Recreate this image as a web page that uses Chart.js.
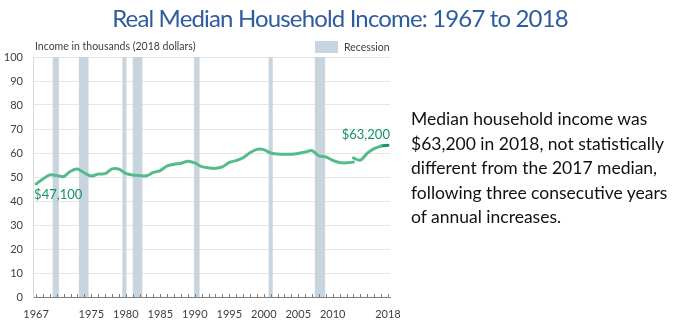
<!DOCTYPE html>
<html>
<head>
<meta charset="utf-8">
<script src="https://cdn.jsdelivr.net/npm/chart.js@4"></script>
<style>
    body { margin: 0; background: #fff; }
    #wrap { position: relative; width: 680px; height: 328px; overflow: hidden; }
    #grafica { position: absolute; left: 0; top: 0; }
    #titulo {
        position: absolute; left: 0; top: 3px; width: 680px; text-align: center;
        font-family: "Lato", sans-serif; font-size: 24px; letter-spacing: -0.85px; color: #2f5b9f;
    }
    #texto {
        position: absolute; left: 411px; top: 107px; width: 270px;
        font-family: "Lato", sans-serif; font-size: 17.5px; line-height: 24.5px; color: #111;
    }
    #ejeTitulo {
        position: absolute; left: 35px; top: 40px;
        font-family: "Lato", sans-serif; font-size: 10.5px; color: #404040;
    }
    #leyenda {
        position: absolute; left: 315px; top: 41px;
        font-family: "Lato", sans-serif; font-size: 10.5px; color: #404040;
    }
    #leyenda span.caja {
        display: inline-block; width: 23px; height: 12px; background: #c8d5df;
        vertical-align: -2px; margin-right: 6px;
    }
</style>
</head>
<body>
<div id="wrap">
    <canvas id="grafica" width="680" height="328"></canvas>
    <div id="titulo">Real Median Household Income: 1967 to 2018</div>
    <div id="ejeTitulo">Income in thousands (2018 dollars)</div>
    <div id="leyenda"><span class="caja"></span>Recession</div>
    <div id="texto">Median household income was $63,200 in 2018, not statistically different from the 2017 median, following three consecutive years of annual increases.</div>
</div>
<script>
const years = [
    1967, 1968, 1969, 1970, 1971, 1972, 1973, 1974, 1975, 1976,
    1977, 1978, 1979, 1980, 1981, 1982, 1983, 1984, 1985, 1986,
    1987, 1988, 1989, 1990, 1991, 1992, 1993, 1994, 1995, 1996,
    1997, 1998, 1999, 2000, 2001, 2002, 2003, 2004, 2005, 2006,
    2007, 2008, 2009, 2010, 2011, 2012, 2013, 2014, 2015, 2016,
    2017, 2018
];

// serie original 1967-2013
const incomeLegacy = [
    47.1, 49.2, 50.9, 50.6, 50.2, 52.4, 53.3, 51.7, 50.4, 51.2,
    51.4, 53.4, 53.3, 51.5, 50.8, 50.6, 50.5, 51.9, 52.7, 54.6,
    55.3, 55.7, 56.6, 55.9, 54.3, 53.8, 53.6, 54.2, 56.1, 56.8,
    58.0, 60.1, 61.5, 61.4, 60.0, 59.6, 59.5, 59.5, 59.8, 60.4,
    61.0, 58.8, 58.4, 56.9, 56.0, 55.9, 56.2, null, null, null,
    null, null
];

// serie con cuestionario nuevo 2013-2017
const incomeRedesign = [
    null, null, null, null, null, null, null, null, null, null,
    null, null, null, null, null, null, null, null, null, null,
    null, null, null, null, null, null, null, null, null, null,
    null, null, null, null, null, null, null, null, null, null,
    null, null, null, null, null, null, 57.9, 57.0, 59.9, 61.8,
    62.9, null
];

// sistema de procesamiento actualizado 2017-2018
const incomeUpdated = [
    null, null, null, null, null, null, null, null, null, null,
    null, null, null, null, null, null, null, null, null, null,
    null, null, null, null, null, null, null, null, null, null,
    null, null, null, null, null, null, null, null, null, null,
    null, null, null, null, null, null, null, null, null, null,
    62.9, 63.2
];

const recessionStart = [1969.4, 1973.2, 1979.5, 1981.0, 1989.9, 2000.7, 2007.4];
const recessionEnd = [1970.3, 1974.6, 1980.1, 1982.4, 1990.7, 2001.3, 2008.9];

const xTickLabels = [1967, 1975, 1980, 1985, 1990, 1995, 2000, 2005, 2010, 2018];
const yTicks = [0, 10, 20, 30, 40, 50, 60, 70, 80, 90, 100];

const firstLabel = "$47,100";
const lastLabel = "$63,200";

function puntos(valores) {
    return years.map((y, i) => ({ x: y, y: valores[i] }));
}

const recesiones = {
    id: "recesiones",
    beforeDatasetsDraw(chart) {
        const { ctx, chartArea, scales } = chart;
        ctx.save();
        ctx.fillStyle = "#c8d5df";
        recessionStart.forEach((ini, i) => {
            const x1 = scales.x.getPixelForValue(ini);
            const x2 = scales.x.getPixelForValue(recessionEnd[i]);
            ctx.fillRect(x1, chartArea.top, x2 - x1, chartArea.bottom - chartArea.top);
        });
        ctx.restore();
    },
    afterDatasetsDraw(chart) {
        const { ctx, scales } = chart;
        ctx.save();
        // marcas de cada año hacia arriba
        ctx.strokeStyle = "#7f7f7f";
        ctx.lineWidth = 1;
        const yb = scales.y.getPixelForValue(0);
        years.forEach(y => {
            const x = Math.round(scales.x.getPixelForValue(y)) + 0.5;
            ctx.beginPath();
            ctx.moveTo(x, yb);
            ctx.lineTo(x, yb - 3);
            ctx.stroke();
        });

        // etiquetas de inicio y fin
        ctx.fillStyle = "#179068";
        ctx.font = "13px Lato";
        const x0 = scales.x.getPixelForValue(years[0]);
        const y0 = scales.y.getPixelForValue(incomeLegacy[0]);
        ctx.textAlign = "left";
        ctx.textBaseline = "top";
        ctx.fillText(firstLabel, x0 - 2, y0 + 4);

        const n = years.length - 1;
        const xn = scales.x.getPixelForValue(years[n]);
        const yn = scales.y.getPixelForValue(incomeUpdated[n]);
        ctx.textAlign = "right";
        ctx.textBaseline = "alphabetic";
        ctx.fillText(lastLabel, xn + 2, yn - 6);
        ctx.restore();
    }
};

Chart.defaults.font.family = "Lato";
Chart.defaults.font.size = 11;
Chart.defaults.color = "#404040";

const ctx = document.getElementById("grafica").getContext("2d");

const grafica = new Chart(ctx, {
    type: "line",
    data: {
        datasets: [
            {
                data: puntos(incomeLegacy),
                borderColor: "#55bb8c",
                borderWidth: 3,
                tension: 0.3,
                pointRadius: 0,
                borderCapStyle: "round"
            },
            {
                data: puntos(incomeRedesign),
                borderColor: "#55bb8c",
                borderWidth: 3,
                tension: 0.3,
                pointRadius: 0,
                borderCapStyle: "round"
            },
            {
                data: puntos(incomeUpdated),
                borderColor: "#14906a",
                borderWidth: 3,
                tension: 0,
                pointRadius: 0,
                borderCapStyle: "round"
            }
        ]
    },
    options: {
        responsive: false,
        animation: false,
        layout: {
            padding: { left: 0, right: 290, top: 57, bottom: 6 }
        },
        plugins: {
            legend: { display: false },
            tooltip: { enabled: false }
        },
        scales: {
            x: {
                type: "linear",
                min: 1966.55,
                max: 2018.3,
                afterBuildTicks: scale => {
                    scale.ticks = years.map(v => ({ value: v }));
                },
                afterFit: scale => { scale.height = 25; },
                ticks: {
                    autoSkip: false,
                    maxRotation: 0,
                    padding: 3,
                    callback: value => xTickLabels.includes(value) ? String(value) : ""
                },
                grid: { display: false },
                border: { display: true, color: "#7f7f7f" }
            },
            y: {
                min: 0,
                max: 100,
                afterBuildTicks: scale => {
                    scale.ticks = yTicks.map(v => ({ value: v }));
                },
                afterFit: scale => { scale.width = 33; },
                ticks: { padding: 10 },
                grid: { color: "#e6e6e6", drawTicks: false },
                border: { display: true, color: "#d9d9d9" }
            }
        }
    },
    plugins: [recesiones]
});
</script>
</body>
</html>
